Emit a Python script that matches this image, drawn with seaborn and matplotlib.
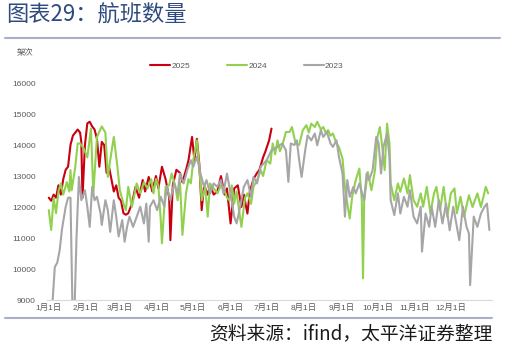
import matplotlib
matplotlib.use("Agg")
import matplotlib.pyplot as plt
import seaborn as sns
import pandas as pd
from matplotlib.lines import Line2D

# ---------------- data (day of year, flights) ----------------
days_2025 = [0, 2, 4, 6, 8, 10, 12, 14, 16, 18, 20, 22, 24, 26, 27, 28, 30, 32, 34, 36, 38, 40, 42, 44, 46, 48,
             50, 52, 54, 56, 58, 60, 62, 64, 66, 69, 72, 75, 78, 80, 83, 86, 89, 91, 94, 97, 100, 101, 103, 106,
             109, 111, 114, 116, 119, 121, 123, 125, 127, 129, 132, 134, 137, 140, 143, 146, 148, 151, 154, 157,
             160, 162, 165, 167, 170, 173, 175, 178, 180, 183, 185]
flights_2025 = [12300, 12200, 12400, 12300, 12700, 12400, 12900, 13200, 13300, 14000, 14300, 14400, 14500, 14400,
                14100, 12300, 14000, 14700, 14750, 14600, 14500, 14200, 13300, 14100, 14000, 13100,
                13300, 12900, 12500, 12700, 12300, 12200, 11800, 11750, 11800, 12100, 12650, 12300, 12870, 12500,
                12970, 12500, 13000, 12600, 13300, 12900, 12300, 10930, 12700, 13200,
                13100, 12800, 13200, 13500, 14260, 13500, 14200, 13400, 11900, 12700, 12400, 12700, 12400, 12500,
                13000, 12400, 12600, 11470, 12600, 12700,
                12000, 12400, 11790, 12500, 12900, 13100, 13200, 13600, 13800, 14150, 14530]

days_2024 = [0, 2, 4, 6, 8, 10, 12, 15, 17, 18, 19, 22, 24, 26, 29, 32, 35, 37, 40, 44, 47, 49, 51, 54, 57, 59,
             62, 64, 66, 69, 73, 76, 79, 82, 85, 87, 89, 91, 93, 94, 97, 100, 102, 105, 107, 109, 111, 114, 116,
             118, 120, 123, 125, 127, 130, 132, 134, 137, 140, 143, 145, 148, 150, 152, 154, 156, 158, 160, 163,
             165, 168, 170, 173, 176, 178, 181, 184, 186, 188, 190, 192, 194, 197, 200, 202, 205, 208, 211, 214,
             216, 218, 221, 223, 226, 228, 230, 232, 234, 236, 239, 241, 244, 246, 248, 250, 252, 255, 258, 260,
             261, 262, 265, 268, 271, 273, 275, 277, 279, 281, 283, 284, 287, 290, 292, 295, 298, 300, 303, 306,
             309, 311, 314, 317, 320, 322, 325, 328, 331, 334, 337, 339, 342, 345, 349, 352, 356, 359, 363, 365]
flights_2024 = [11900, 11260, 12300, 11800, 12500, 12760, 12400, 12800, 12500, 13190, 12540, 13300, 14050, 14050,
                13890, 13600, 14530, 12440, 14260, 14600, 14400, 12970, 13510, 14260, 13300, 12540,
                12110, 11900, 12650, 12000, 12760, 12440, 12800, 12600, 12900, 12440, 12900, 12700, 11580, 10830,
                12650, 12700, 13080, 12700, 12220, 12800, 11100, 12440, 12900,
                12760, 13510, 14150, 13300, 12220, 12650, 11690, 12760, 12600, 12440, 12700, 12650, 12300, 12220,
                12700, 12110, 12500, 11900, 11360, 12300,
                12440, 12100, 12650, 12870, 13190, 13000, 13510, 13400, 14050, 13700, 14150, 13800, 14000, 14420,
                14420, 14580, 14050, 14000, 14480, 14640,
                14400, 14690, 14580, 14750, 14500, 14580, 14400, 14480, 14300, 14370, 14050, 13940, 13560, 12650,
                12110, 11630, 12330, 12870, 13240, 12220,
                9700, 12220, 13130, 12540, 13190, 14260, 14580, 13940, 13190, 14690, 14050, 12760, 12220, 12760,
                12490, 12920, 12440, 13030, 12220, 12010,
                12440, 12010, 12650, 11800, 12440, 12650, 11900, 12650, 11690, 12440, 12600, 11800, 12330, 11690,
                12380, 12000, 12440, 12000, 12650, 12440]

days_2023 = [2, 5, 7, 9, 11, 14, 16, 18, 20, 21, 23, 25, 27, 30, 32, 34, 36, 38, 40, 43, 44, 47, 49, 51, 54, 56,
             58, 61, 63, 65, 67, 70, 73, 76, 79, 81, 83, 84, 87, 90, 93, 96, 98, 101, 104, 107, 109, 112, 115,
             118, 120, 123, 126, 129, 131, 134, 137, 140, 143, 145, 148, 151, 154, 156, 159, 162, 165, 168, 170,
             173, 176, 181, 185, 190, 194, 197, 199, 201, 204, 206, 208, 210, 213, 215, 218, 221, 223, 226, 228,
             231, 234, 236, 239, 241, 244, 246, 248, 250, 253, 255, 258, 262, 264, 266, 269, 272, 274, 276, 278,
             281, 283, 284, 287, 290, 292, 295, 298, 300, 303, 306, 309, 310, 313, 316, 318, 321, 324, 327, 330,
             333, 336, 339, 341, 344, 347, 349, 350, 353, 356, 359, 362, 364, 366]
flights_2023 = [8300, 10070, 10200, 10600, 11300, 12000, 12300, 12300, 8000, 8200, 11000, 12970, 12220, 12540,
                12000, 11360, 12650, 12220, 12330, 11790, 11420, 12220, 11900, 11200, 12220, 11690,
                11050, 11580, 10880, 11360, 11690, 11360, 11690, 12010, 11470, 12110, 10880, 12010, 12220, 11900,
                12330, 12010, 12650, 12220, 12760, 12440, 13080, 12760, 13190,
                13510, 13300, 13620, 13080, 12650, 12870, 12440, 12760, 12650, 12870, 12440, 13080, 12440, 11690,
                11470, 12010, 12650, 12870, 12330, 12970,
                12760, 13300, 13510, 13830, 13940, 14050, 13830, 12810, 14050, 14000, 14150, 13510, 12970, 13830,
                14310, 14150, 14370, 13990, 14480, 14260,
                14420, 14050, 13940, 14150, 13620, 13080, 11690, 12870, 12330, 12650, 12440, 12760, 12220, 13080,
                12870, 13190, 14260, 14050, 13080, 13940,
                14370, 13620, 12220, 11740, 12440, 11790, 12330, 12010, 12540, 11690, 11470, 12010, 10560, 11790,
                11360, 12010, 11360, 12220, 11470, 12110,
                11250, 12010, 11360, 10930, 12010, 11360, 11150, 9480, 11690, 11360, 11790, 12010, 12110, 11260]

month_ticks = [0, 31, 59, 90, 120, 151, 181, 212, 243, 273, 304, 334]
month_labels = ["1月1日", "2月1日", "3月1日", "4月1日", "5月1日", "6月1日",
                "7月1日", "8月1日", "9月1日", "10月1日", "11月1日", "12月1日"]
y_ticks = [9000, 10000, 11000, 12000, 13000, 14000, 15000, 16000]

series_names = ["2025", "2024", "2023"]
series_colors = ["#C8000F", "#92D050", "#A6A6A6"]

# ---------------- figure ----------------
sns.set_theme(style="white")
plt.rcParams["font.family"] = ["Liberation Sans", "Noto Sans CJK SC", "DejaVu Sans"]

fig = plt.figure(figsize=(5.07, 3.54), dpi=100)
ax = fig.add_axes([0.0927, 0.1525, 0.8773, 0.6130])

frames = [
    pd.DataFrame({"day": days_2025, "flights": flights_2025, "year": "2025"}),
    pd.DataFrame({"day": days_2024, "flights": flights_2024, "year": "2024"}),
    pd.DataFrame({"day": days_2023, "flights": flights_2023, "year": "2023"}),
]
for df, name, col in zip(frames, series_names, series_colors):
    sns.lineplot(data=df, x="day", y="flights", ax=ax, color=col, linewidth=1.5,
                 estimator=None, label=name, legend=False)

ax.set_xlim(-1.5, 368)
ax.set_ylim(9000, 16000)
ax.set_xticks(month_ticks)
ax.set_xticklabels(month_labels)
ax.set_yticks(y_ticks)
ax.set_yticklabels([str(v) for v in y_ticks])
ax.set_xlabel("")
ax.set_ylabel("")
ax.tick_params(axis="both", length=0, labelsize=6, colors="#595959")
ax.tick_params(axis="y", pad=8)
ax.tick_params(axis="x", pad=3)
for s in ["top", "right", "left"]:
    ax.spines[s].set_visible(False)
ax.spines["bottom"].set_color("#D9D9D9")
ax.spines["bottom"].set_linewidth(0.8)
ax.grid(False)

handles = [Line2D([0], [0], color=c, lw=1.5) for c in series_colors]
fig.legend(handles, series_names, loc="center", bbox_to_anchor=(0.487, 0.814),
           ncol=3, frameon=False, fontsize=6, handlelength=2.4, handletextpad=0.15,
           columnspacing=4.4, labelcolor="#595959")

# title, separators, unit label, source
fig.text(0.012, 1 - 15 / 354, "图表29：航班数量", fontsize=16, color="#2E4B7F",
         va="center", ha="left", family=["Noto Sans CJK SC", "DejaVu Sans"])
fig.add_artist(Line2D([5 / 507, 500 / 507], [1 - 37.5 / 354, 1 - 37.5 / 354],
                      color="#A9AECB", lw=1.5, transform=fig.transFigure))
fig.text(17 / 507, 1 - 52 / 354, "架次", fontsize=6, color="#595959", va="center", ha="left",
         family=["Noto Sans CJK SC", "DejaVu Sans"])
fig.add_artist(Line2D([5 / 507, 492 / 507], [1 - 318 / 354, 1 - 318 / 354],
                      color="#A9AECB", lw=1.5, transform=fig.transFigure))
fig.text(492 / 507, 1 - 334 / 354, "资料来源：ifind，太平洋证券整理", fontsize=13.5, color="#1A1A1A",
         va="center", ha="right", style="italic", family=["Noto Sans CJK SC", "DejaVu Sans"])

fig.savefig("out.png", dpi=100)
